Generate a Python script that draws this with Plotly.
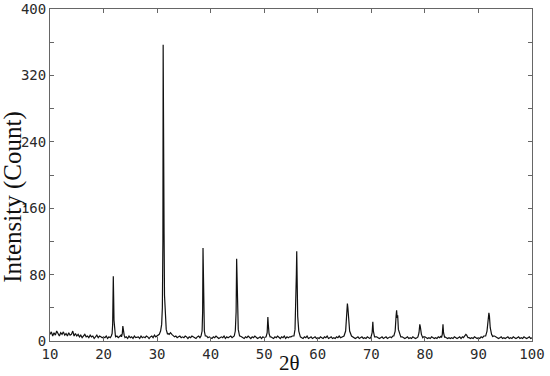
import numpy as np
import plotly.graph_objects as go

# scan grid for the background (0.25 deg steps), counts
bg_2theta = np.linspace(10, 100, 361)
bg_counts = [
    8, 11, 6, 10, 7, 12, 9, 6, 10, 8, 11, 7, 9, 6, 10, 7, 8, 12, 6, 9,
    6, 8, 5, 7, 4, 6, 8, 5, 6, 4, 7, 5, 6, 3, 5, 7, 4, 6, 5, 4,
    5, 4, 6, 3, 5, 4, 6, 5, 3, 5, 6, 4, 5, 7, 5, 6, 4, 5, 3, 6,
    4, 5, 3, 6, 4, 5, 5, 3, 6, 4, 5, 4, 6, 5, 3, 5, 6, 4, 7, 5,
    6, 8, 7, 9, 12, 14, 12, 10, 9, 8, 10, 8, 7, 5, 6, 4, 5, 6, 4, 5,
    4, 6, 5, 3, 5, 4, 6, 5, 4, 3, 5, 6, 4, 5, 6, 5, 6, 6, 4, 5,
    4, 3, 5, 4, 6, 5, 3, 4, 5, 4, 6, 3, 5, 4, 5, 6, 4, 5, 7, 6,
    6, 6, 6, 5, 4, 3, 5, 4, 6, 4, 3, 5, 4, 6, 5, 3, 4, 5, 3, 5,
    4, 5, 6, 5, 5, 5, 4, 3, 5, 4, 6, 4, 3, 5, 4, 6, 3, 5, 4, 5,
    5, 6, 6, 6, 6, 6, 7, 5, 4, 3, 5, 4, 6, 3, 4, 5, 3, 4, 5, 3,
    4, 3, 5, 4, 3, 5, 4, 6, 3, 4, 5, 3, 4, 3, 5, 4, 6, 4, 5, 6,
    6, 6, 6, 6, 6, 6, 5, 4, 3, 4, 5, 3, 4, 5, 3, 4, 3, 5, 4, 3,
    5, 5, 5, 5, 5, 4, 3, 4, 5, 3, 4, 5, 3, 4, 5, 4, 6, 5, 6, 6,
    6, 6, 6, 5, 4, 3, 4, 5, 3, 4, 3, 5, 4, 3, 4, 5, 6, 5, 5, 5,
    5, 4, 3, 4, 3, 5, 4, 3, 4, 3, 5, 4, 6, 5, 5, 5, 4, 3, 4, 3,
    4, 3, 5, 4, 3, 4, 5, 3, 5, 4, 4, 4, 4, 4, 3, 4, 3, 5, 4, 3,
    4, 3, 5, 4, 6, 6, 6, 6, 6, 6, 6, 6, 6, 5, 4, 3, 4, 5, 3, 4,
    3, 4, 5, 3, 4, 3, 5, 4, 3, 4, 5, 3, 4, 3, 5, 4, 3, 4, 5, 3,
    4,
]

# reflections: (2theta, counts) points across each peak
peak_22 = [(21.45, 6), (21.6, 9), (21.7, 20), (21.77, 50), (21.82, 78), (21.88, 55), (21.95, 25), (22.05, 12), (22.2, 7)]
peak_24 = [(23.35, 5), (23.5, 9), (23.6, 18), (23.7, 12), (23.85, 7)]
peak_31 = [(30.4, 8), (30.65, 12), (30.85, 20), (30.98, 40), (31.08, 120), (31.13, 357), (31.18, 200),
           (31.24, 295), (31.3, 130), (31.38, 55), (31.5, 28), (31.7, 14), (31.95, 8)]
peak_39 = [(38.2, 6), (38.4, 12), (38.5, 35), (38.57, 112), (38.63, 70), (38.7, 30), (38.82, 12), (39.0, 6)]
peak_45 = [(44.4, 6), (44.6, 12), (44.75, 35), (44.85, 99), (44.92, 80), (45.0, 35), (45.15, 14), (45.4, 6)]
peak_51 = [(50.35, 5), (50.55, 10), (50.68, 29), (50.76, 20), (50.9, 9), (51.1, 5)]
peak_56 = [(55.55, 6), (55.75, 14), (55.9, 40), (56.0, 80), (56.07, 108), (56.13, 75), (56.25, 30), (56.45, 12), (56.7, 6)]
peak_66 = [(64.9, 6), (65.2, 12), (65.4, 28), (65.53, 45), (65.62, 40), (65.75, 25), (65.95, 12), (66.3, 6)]
peak_70 = [(69.95, 5), (70.15, 10), (70.28, 23), (70.38, 12), (70.6, 5)]
peak_75 = [(74.2, 6), (74.45, 12), (74.62, 30), (74.72, 37), (74.82, 28), (74.92, 31), (75.05, 14), (75.3, 7), (75.5, 5)]
peak_79 = [(78.7, 5), (78.9, 10), (79.05, 20), (79.15, 17), (79.35, 8), (79.6, 4)]
peak_83 = [(83.1, 4), (83.25, 8), (83.38, 20), (83.48, 10), (83.7, 4)]
peak_88 = [(87.2, 4), (87.45, 6), (87.65, 8), (87.8, 7), (88.05, 4)]
peak_92 = [(91.35, 6), (91.6, 12), (91.8, 25), (91.95, 34), (92.05, 30), (92.2, 16), (92.45, 8), (92.7, 5)]

peaks = [peak_22, peak_24, peak_31, peak_39, peak_45, peak_51, peak_56,
         peak_66, peak_70, peak_75, peak_79, peak_83, peak_88, peak_92]

# put the peaks into the background scan
pts = []
for x, y in zip(bg_2theta, bg_counts):
    if not any(p[0][0] <= x <= p[-1][0] for p in peaks):
        pts.append((x, y))
for p in peaks:
    pts.extend(p)
pts.sort()
x_all = [p[0] for p in pts]
y_all = [p[1] for p in pts]

y_tickvals = [0, 40, 80, 120, 160, 200, 240, 280, 320, 360, 400]
y_ticktext = ["0", "", "80", "", "160", "", "240", "", "320", "", "400"]
x_tickvals = [10, 20, 30, 40, 50, 60, 70, 80, 90, 100]

fig = go.Figure()
fig.add_trace(go.Scatter(x=x_all, y=y_all, mode="lines",
                         line=dict(color="#111111", width=1.2), showlegend=False))

tick_font = dict(family="DejaVu Sans Mono", size=14, color="#2a2a2a")
fig.update_xaxes(range=[10, 100], tickvals=x_tickvals, ticks="inside", ticklen=4,
                 tickcolor="#666666", showline=True, linecolor="#666666", linewidth=1,
                 mirror="ticks", showgrid=False, zeroline=False, tickfont=tick_font,
                 automargin=False)
fig.update_yaxes(range=[0, 400], tickvals=y_tickvals, ticktext=y_ticktext, ticks="inside",
                 ticklen=4, tickcolor="#666666", showline=True, linecolor="#666666",
                 linewidth=1, mirror="ticks", showgrid=False, zeroline=False, tickfont=tick_font,
                 automargin=False)

fig.add_annotation(text="Intensity (Count)", xref="paper", yref="paper", x=-0.077, y=0.434,
                   textangle=-90, showarrow=False, xanchor="center", yanchor="middle",
                   font=dict(family="Liberation Serif", size=25, color="#111111"))
fig.add_annotation(text="2θ", xref="paper", yref="paper", x=0.496, y=-0.066,
                   showarrow=False, xanchor="center", yanchor="middle",
                   font=dict(family="Liberation Serif", size=21, color="#111111"))

fig.update_layout(width=550, height=376, margin=dict(l=50, r=18, t=9, b=35),
                  plot_bgcolor="white", paper_bgcolor="white")

# drop the page's default 8px body margin so the figure sits at the window corner
fig.write_html("out.html", config={"displayModeBar": False},
               post_script="document.body.style.margin='0px';")
